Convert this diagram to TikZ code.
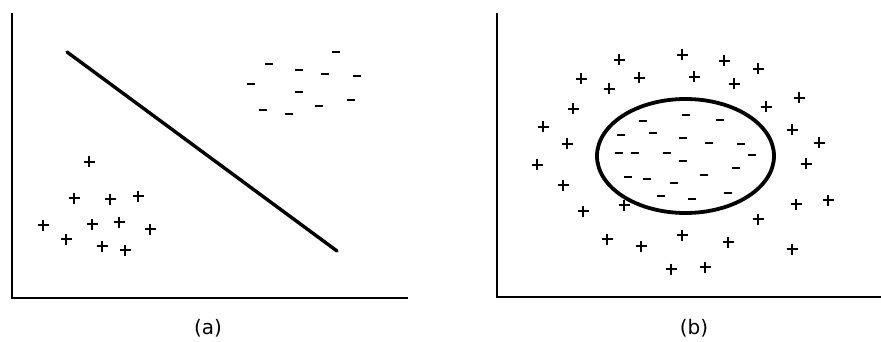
\documentclass[tikz,border=0pt]{standalone}
\usepackage{fontspec}
\setmainfont{DejaVu Sans}
\usetikzlibrary{calc}

\begin{document}
\begin{tikzpicture}[x=1pt, y=-1pt,
      axis/.style={line width=2.4pt, line cap=rect},
      pl/.style={line width=2.3pt},
      mn/.style={line width=2.3pt},
      mnthin/.style={line width=1.6pt},
      lbl/.style={font=\fontsize{20}{22}\selectfont, inner sep=0pt}]
    \useasboundingbox (0,0) rectangle (881,342);
    % panel (a): linear split
    \coordinate (aTop) at (12,14);
    \coordinate (aO) at (12,298);
    \coordinate (aEnd) at (407,298);
    \draw[axis] (aTop) -- (aO) -- (aEnd);
    \coordinate (cutA) at (67,52);
    \coordinate (cutB) at (337,251);
    \draw[line width=3.4pt, line cap=round] (cutA) -- (cutB);
    \foreach \x/\y in {336/52, 269/64, 299/70, 325/74, 357/76, 251/84,
                       299/92, 351/100, 319/106, 263/110, 289/114}
      \draw[mn] (\x-3.8,\y) -- (\x+3.8,\y);
    \foreach \x/\y in {89/162, 74/198, 110/199, 138/196, 43/225, 92/224,
                       119/222, 150/229, 66/239, 102/246, 125/250}
      {\draw[pl] (\x-5.5,\y) -- (\x+5.5,\y); \draw[pl] (\x,\y-5.5) -- (\x,\y+5.5);}
    \node[lbl] (capA) at (208,328) {(a)};

    % panel (b): closed boundary
    \coordinate (bTop) at (497,14);
    \coordinate (bO) at (497,297);
    \coordinate (bEnd) at (881,297);
    \draw[axis] (bTop) -- (bO) -- (bEnd);
    \coordinate (ring) at (685.5,156);
    \draw[line width=3.8pt] (ring) ellipse [x radius=88.5, y radius=57];
    \foreach \x/\y in {686/115, 643/121, 720/120, 621/135, 653/133, 683/138,
                       709/143, 741/144, 619/153, 635/153, 667/153, 752/155,
                       683/161, 736/168, 704/175, 628/177, 647/179, 674/183,
                       728/193, 661/196, 692/199}
      \draw[mnthin] (\x-3.8,\y) -- (\x+3.8,\y);
    \foreach \x/\y in {619/60, 682/55, 724/61, 758/69, 581/79, 639/78, 694/77,
                       609/89, 734/84, 799/98, 766/107, 573/109, 543/127,
                       792/130, 567/144, 819/143, 537/165, 806/164, 563/185,
                       796/204, 828/200, 624/205, 583/211, 758/219, 682/235,
                       607/239, 641/246, 728/242, 792/249, 671/269, 705/267}
      {\draw[pl, line width=1.9pt] (\x-5.5,\y) -- (\x+5.5,\y);
       \draw[pl, line width=1.9pt] (\x,\y-5.5) -- (\x,\y+5.5);}
    \node[lbl] (capB) at (694,328) {(b)};
\end{tikzpicture}
\end{document}
